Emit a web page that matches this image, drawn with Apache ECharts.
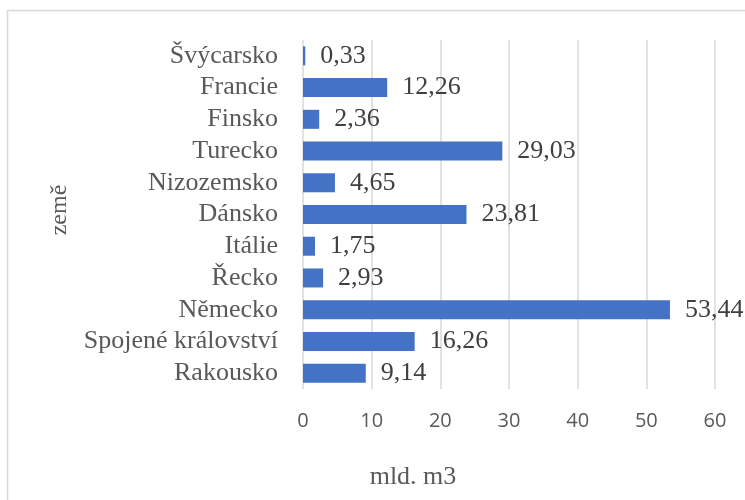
<!DOCTYPE html>
<html>
<head>
<meta charset="utf-8">
<script src="https://cdn.jsdelivr.net/npm/echarts@6/dist/echarts.min.js"></script>
<style>
  html, body { margin: 0; padding: 0; background: #fff; }
  #chart { width: 745px; height: 500px; }
</style>
</head>
<body>
<div id="chart"></div>
<script>
// data (bottom to top as in the picture)
var countries = ['Rakousko', 'Spojené království', 'Německo', 'Řecko', 'Itálie', 'Dánsko',
  'Nizozemsko', 'Turecko', 'Finsko', 'Francie', 'Švýcarsko']
var values = [9.14, 16.26, 53.44, 2.93, 1.75, 23.81, 4.65, 29.03, 2.36, 12.26, 0.33]
var xTicks = [0, 10, 20, 30, 40, 50, 60]

var serif = '"Liberation Serif", "Times New Roman", serif'
var myChart = echarts.init(document.getElementById('chart'))

myChart.setOption({
  animation: false,
  grid: { left: 303, right: 30, top: 40, bottom: 111 },
  graphic: [
    {
      type: 'rect',
      shape: { x: 7.5, y: 10.5, width: 760, height: 520 },
      style: { fill: 'none', stroke: '#d9d9d9', lineWidth: 1.5 },
      silent: true
    },
    {
      type: 'text',
      x: 413, y: 477,
      style: { text: 'mld. m3', font: '26px ' + serif, fill: '#595959', align: 'center', verticalAlign: 'middle' }
    },
    {
      type: 'text',
      x: 60, y: 210, rotation: Math.PI / 2,
      style: { text: 'země', font: '24px ' + serif, fill: '#595959', align: 'center', verticalAlign: 'middle' }
    }
  ],
  xAxis: {
    type: 'value',
    min: xTicks[0],
    max: xTicks[xTicks.length - 1],
    interval: 10,
    axisLine: { show: false },
    axisTick: { show: false },
    splitLine: { lineStyle: { color: '#d9d9d9', width: 1.5 } },
    axisLabel: { color: '#595959', fontFamily: '"Open Sans", sans-serif', fontSize: 20, margin: 22 }
  },
  yAxis: {
    type: 'category',
    data: countries,
    axisLine: { show: false },
    axisTick: { show: false },
    axisLabel: { interval: 0, color: '#595959', fontFamily: serif, fontSize: 26, margin: 25 }
  },
  series: [
    {
      type: 'bar',
      data: values,
      barWidth: 19,
      itemStyle: { color: '#4472c4' },
      label: {
        show: true,
        position: 'right',
        distance: 15,
        color: '#404040',
        fontFamily: serif,
        fontSize: 26,
        formatter: function (p) { return p.value.toFixed(2).replace('.', ',') }
      }
    }
  ]
})
</script>
</body>
</html>
